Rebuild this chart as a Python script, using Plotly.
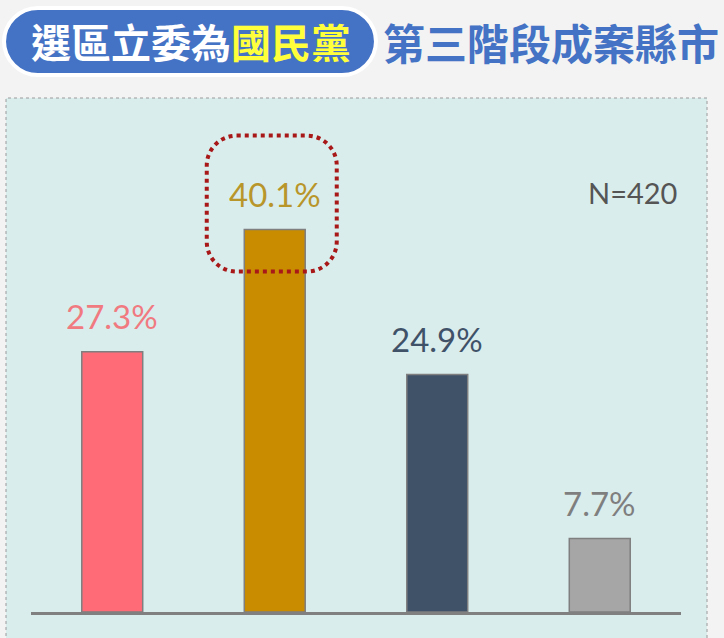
import plotly.graph_objects as go

# values
categories = ["A", "B", "C", "D"]
values = [27.3, 40.1, 24.9, 7.7]
bar_colors = ["#FF6B77", "#C98B00", "#3F5268", "#A6A6A6"]
label_colors = ["#F07A80", "#B8962A", "#3F5268", "#7F7F7F"]
sample_note = "N=420"
title_left = "選區立委為"
title_hilite = "國民黨"
title_right = "第三階段成案縣市"

K = 0.5523
# plot area in pixels: left 31, width 650, baseline 612, height 514
PL, PW, PB, PH = 31, 650, 612, 514


def px(x):
    return (x - PL) / PW


def py(y):
    return (PB - y) / PH


def rounded_rect(x0, y0, x1, y1, r):
    # rounded rectangle as svg path (pixel units, y grows upward)
    k = r * (1 - K)
    return (
        f"M {x0 + r},{y1} L {x1 - r},{y1} "
        f"C {x1 - k},{y1} {x1},{y1 - k} {x1},{y1 - r} "
        f"L {x1},{y0 + r} "
        f"C {x1},{y0 + k} {x1 - k},{y0} {x1 - r},{y0} "
        f"L {x0 + r},{y0} "
        f"C {x0 + k},{y0} {x0},{y0 + k} {x0},{y0 + r} "
        f"L {x0},{y1 - r} "
        f"C {x0},{y1 - k} {x0 + k},{y1} {x0 + r},{y1} Z"
    )


x_idx = list(range(len(categories)))

fig = go.Figure()
fig.add_trace(
    go.Bar(
        x=x_idx,
        y=values,
        width=0.375,
        marker=dict(color=bar_colors, line=dict(color="#7F7F7F", width=1.5)),
        hoverinfo="skip",
    )
)

# value labels above bars
for i, v in enumerate(values):
    fig.add_annotation(
        x=i, y=v, text=f"{v:.1f}%", showarrow=False, yshift=36,
        yanchor="middle", font=dict(family="Lato", size=33, color=label_colors[i]),
    )

fig.add_annotation(
    x=px(632), y=py(192), xref="paper", yref="paper", text=sample_note,
    xanchor="center", yanchor="middle",
    showarrow=False, font=dict(family="Lato", size=29, color="#555555"),
)

# header texts
fig.add_annotation(
    x=px(191), y=py(41), xref="paper", yref="paper", showarrow=False,
    xanchor="center", yanchor="middle",
    text=f"<b>{title_left}<span style='color:#FFFF3C'>{title_hilite}</span></b>",
    font=dict(family="Noto Sans CJK TC", size=40, color="white"),
)
fig.add_annotation(
    x=px(551), y=py(42), xref="paper", yref="paper", showarrow=False,
    xanchor="center", yanchor="middle",
    text=f"<b>{title_right}</b>",
    font=dict(family="Noto Sans CJK TC", size=42, color="#4472C4"),
)

shapes = []
# light panel behind the chart
shapes.append(dict(
    type="rect", xref="paper", yref="paper", layer="below",
    x0=px(6), x1=px(707), y0=py(645), y1=py(98),
    fillcolor="#DAEDED", line=dict(color="#9A9A9A", width=1, dash="dot"),
))
# header pill
shapes.append(dict(
    type="path", xref="paper", yref="paper", xsizemode="pixel", ysizemode="pixel",
    xanchor=0, yanchor=1, path=rounded_rect(-27, 23, 345, 90, 34),
    fillcolor="#4472C4", line=dict(color="white", width=4),
))
# dotted highlight around the top bar
top = values.index(max(values))
shapes.append(dict(
    type="path", xref="x", yref="y", xsizemode="pixel", ysizemode="pixel",
    xanchor=top, yanchor=values[top], path=rounded_rect(-68, -42, 62, 94, 30),
    line=dict(color="#A81818", width=4, dash="dot"),
))

fig.update_layout(
    width=724, height=638, autosize=False,
    margin=dict(l=PL, r=724 - PL - PW, t=PB - PH, b=638 - PB),
    paper_bgcolor="#F3F3F3", plot_bgcolor="rgba(0,0,0,0)",
    shapes=shapes, showlegend=False,
    xaxis=dict(range=[-0.5, 3.5], showticklabels=False, showgrid=False, zeroline=False,
               showline=True, linecolor="#808080", linewidth=3, fixedrange=True),
    yaxis=dict(range=[0, 53.9], showticklabels=False, showgrid=False, zeroline=False,
               fixedrange=True),
)

fig.write_html(
    "out.html",
    config={"displayModeBar": False},
    post_script="document.body.style.margin='0';document.body.style.overflow='hidden';",
)
